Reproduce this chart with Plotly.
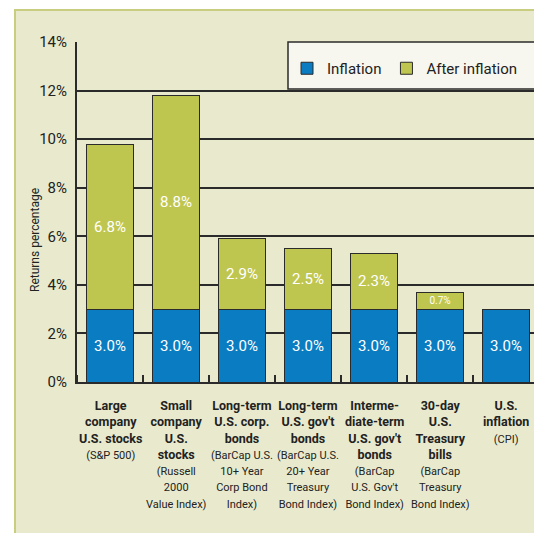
import plotly.graph_objects as go

titles = ["Large<br>company<br>U.S. stocks", "Small<br>company<br>U.S.<br>stocks",
          "Long-term<br>U.S. corp.<br>bonds", "Long-term<br>U.S. gov't<br>bonds",
          "Interme-<br>diate-term<br>U.S. gov't<br>bonds", "30-day<br>U.S.<br>Treasury<br>bills",
          "U.S.<br>inflation"]
subtitles = ["(S&P 500)", "(Russell<br>2000<br>Value Index)",
             "(BarCap U.S.<br>10+ Year<br>Corp Bond<br>Index)",
             "(BarCap U.S.<br>20+ Year<br>Treasury<br>Bond Index)",
             "(BarCap<br>U.S. Gov't<br>Bond Index)",
             "(BarCap<br>Treasury<br>Bond Index)", "(CPI)"]
inflation = [3.0, 3.0, 3.0, 3.0, 3.0, 3.0, 3.0]
after_inflation = [6.8, 8.8, 2.9, 2.5, 2.3, 0.7, 0.0]
yticks = [0, 2, 4, 6, 8, 10, 12, 14]
ytick_labels = ["0%", "2%", "4%", "6%", "8%", "10%", "12%", "14%"]

BLUE = "#0a7cc2"
GREEN = "#bfc64f"
BG = "#e9eacd"
DARK = "#2b2b2b"
FONT = "Roboto"

xs = list(range(len(titles)))

fig = go.Figure()
fig.add_trace(go.Bar(
    x=xs, y=inflation, name="Inflation", width=0.71,
    marker=dict(color=BLUE, line=dict(color=DARK, width=1)),
    text=[f"{v:.1f}%" for v in inflation], textposition="inside",
    insidetextanchor="middle", textangle=0,
    textfont=dict(color="white", size=15, family=FONT),
))
fig.add_trace(go.Bar(
    x=xs, y=after_inflation, name="After inflation", width=0.71,
    marker=dict(color=GREEN, line=dict(color=DARK, width=1)),
    text=[f"{v:.1f}%" if v > 0 else "" for v in after_inflation], textposition="inside",
    insidetextanchor="middle", textangle=0,
    textfont=dict(color="white", size=[15 if v > 1 else 10 for v in after_inflation], family=FONT),
))

W, H = 534, 533
L, T, B = 77, 42, 151
pw = W - L
ph = H - T - B

def px_x(p):
    return (p - L) / pw

def px_y(p):
    return (H - B - p) / ph

shapes = [
    dict(type="rect", xref="paper", yref="paper", x0=px_x(15), x1=px_x(560),
         y0=px_y(560), y1=px_y(10), fillcolor=BG, line=dict(color="#c9cd7f", width=2),
         layer="below"),
    dict(type="rect", xref="paper", yref="paper", x0=px_x(288), x1=px_x(560),
         y0=px_y(89), y1=1, fillcolor="#f7f7ef", line=dict(color=DARK, width=1.5),
         layer="below"),
]

annotations = []
for i in xs:
    annotations.append(dict(
        x=i, xref="x", y=px_y(396), yref="paper", xanchor="center", yanchor="top",
        text=f"<b>{titles[i]}</b><br><span style='font-size:11px'>{subtitles[i]}</span>",
        showarrow=False, align="center",
        font=dict(family=FONT, size=12.5, color="#222"),
    ))
annotations.append(dict(
    x=px_x(35), xref="paper", y=px_y(240), yref="paper", text="Returns percentage",
    textangle=-90, showarrow=False, xanchor="center", yanchor="middle",
    font=dict(family=FONT, size=12, color="#222"),
))

fig.update_layout(
    width=W, height=H,
    margin=dict(l=L, r=0, t=T, b=B, pad=0),
    paper_bgcolor="white", plot_bgcolor="rgba(0,0,0,0)",
    barmode="stack", bargap=0.29,
    showlegend=True,
    legend=dict(orientation="h", x=px_x(287), xanchor="left", y=px_y(52), yanchor="top",
                bgcolor="rgba(0,0,0,0)", font=dict(family=FONT, size=15, color="#222"),
                traceorder="normal", itemwidth=30),
    shapes=shapes, annotations=annotations,
    xaxis=dict(range=[-0.5, -0.5 + pw / 66.0], tickvals=xs, ticktext=[""] * len(xs),
               showgrid=False, zeroline=False, showline=True, linecolor=DARK, linewidth=2,
               ticks="", fixedrange=True,
               minor=dict(tick0=0.5, dtick=1, ticks="inside", ticklen=7, tickcolor=DARK,
                          tickwidth=1.5, showgrid=False)),
    yaxis=dict(range=[0, 14], tickmode="array", tickvals=yticks, ticktext=ytick_labels,
               showgrid=True, gridcolor=DARK, gridwidth=1.5, zeroline=False, showline=True,
               linecolor=DARK, linewidth=2, ticks="outside", ticklen=5,
               tickcolor="rgba(0,0,0,0)",
               tickfont=dict(family=FONT, size=15, color="#222")),
    font=dict(family=FONT),
)

fig.write_html("out.html")
